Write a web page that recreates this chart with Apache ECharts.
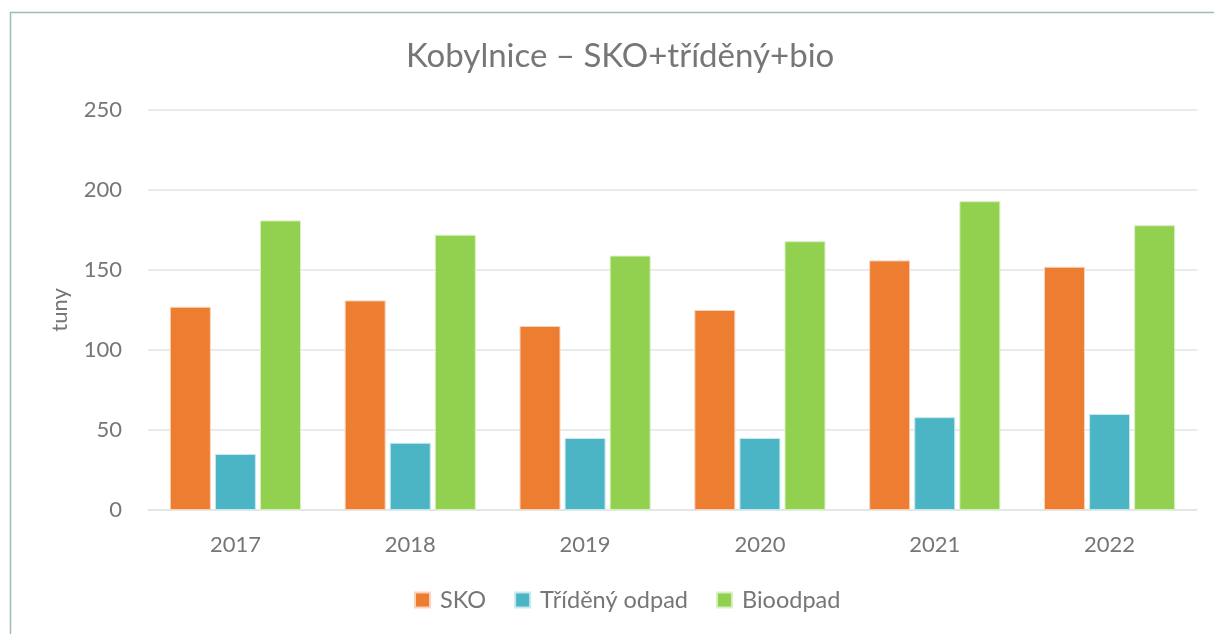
<!DOCTYPE html>
<html>
<head>
<meta charset="utf-8">
<title>Kobylnice – SKO+tříděný+bio</title>
<script src="https://cdn.jsdelivr.net/npm/echarts@6/dist/echarts.min.js"></script>
<style>
    html, body { margin: 0; padding: 0; background: #fff; }
    #odpad { width: 1214px; height: 634px; }
</style>
</head>
<body>
<div id="odpad"></div>
<script>
// data
var roky = ["2017", "2018", "2019", "2020", "2021", "2022"];
var sko = [127, 131, 115, 125, 156, 152];
var trideny = [35, 42, 45, 45, 58, 60];
var bio = [181, 172, 159, 168, 193, 178];
var yTicks = [0, 50, 100, 150, 200, 250];

(function () {
    var textColor = "#767676";
    var font = "Lato, 'Open Sans', sans-serif";

    // 1. instance
    var myChart = echarts.init(document.getElementById("odpad"));

    // 2. konfigurace
    var option = {
        color: ["#ED7D31", "#4BB5C5", "#92D050"],
        textStyle: { fontFamily: font },
        title: {
            text: "Kobylnice – SKO+tříděný+bio",
            left: 401,
            top: 35,
            textStyle: {
                color: textColor,
                fontSize: 33,
                fontWeight: "normal",
                fontFamily: font
            }
        },
        // rámeček kolem grafu
        graphic: [
            {
                type: "rect",
                left: 8,
                top: 10,
                shape: { width: 1300, height: 700 },
                style: { fill: "none", stroke: "#9dbfaa", lineWidth: 1.5 },
                silent: true
            }
        ],
        legend: {
            bottom: 17,
            left: 409,
            itemWidth: 15,
            itemHeight: 15,
            itemGap: 28,
            icon: "rect",
            textStyle: {
                color: textColor,
                fontSize: 23.5,
                padding: [0, 0, 0, 5],
                fontFamily: font
            }
        },
        grid: {
            left: 148,
            right: 17,
            top: 110,
            bottom: 124
        },
        xAxis: {
            type: "category",
            data: roky,
            axisTick: { show: false },
            axisLine: {
                lineStyle: { color: "#dfe6e3", width: 1.5 }
            },
            axisLabel: {
                color: textColor,
                fontSize: 22,
                margin: 24
            }
        },
        yAxis: {
            type: "value",
            min: yTicks[0],
            max: yTicks[yTicks.length - 1],
            interval: yTicks[1] - yTicks[0],
            name: "tuny",
            nameLocation: "middle",
            nameRotate: 90,
            nameGap: 77,
            nameTextStyle: {
                color: textColor,
                fontSize: 22
            },
            axisLine: { show: false },
            axisTick: { show: false },
            axisLabel: {
                color: textColor,
                fontSize: 22,
                margin: 26
            },
            splitLine: {
                lineStyle: { color: "#dfe6e3", width: 1.5 }
            }
        },
        series: [
            {
                name: "SKO",
                type: "bar",
                data: sko,
                barGap: "10%",
                barCategoryGap: "25%",
                itemStyle: { borderColor: "#fbd3bb", borderWidth: 1 }
            },
            {
                name: "Tříděný odpad",
                type: "bar",
                data: trideny,
                barGap: "10%",
                barCategoryGap: "25%",
                itemStyle: { borderColor: "#c5e9ee", borderWidth: 1 }
            },
            {
                name: "Bioodpad",
                type: "bar",
                data: bio,
                barGap: "10%",
                barCategoryGap: "25%",
                itemStyle: { borderColor: "#d8f0bf", borderWidth: 1 }
            }
        ]
    };

    // 3. nastavit
    myChart.setOption(option);

    // 4. resize
    window.addEventListener("resize", function () {
        myChart.resize();
    });
})();
</script>
</body>
</html>
